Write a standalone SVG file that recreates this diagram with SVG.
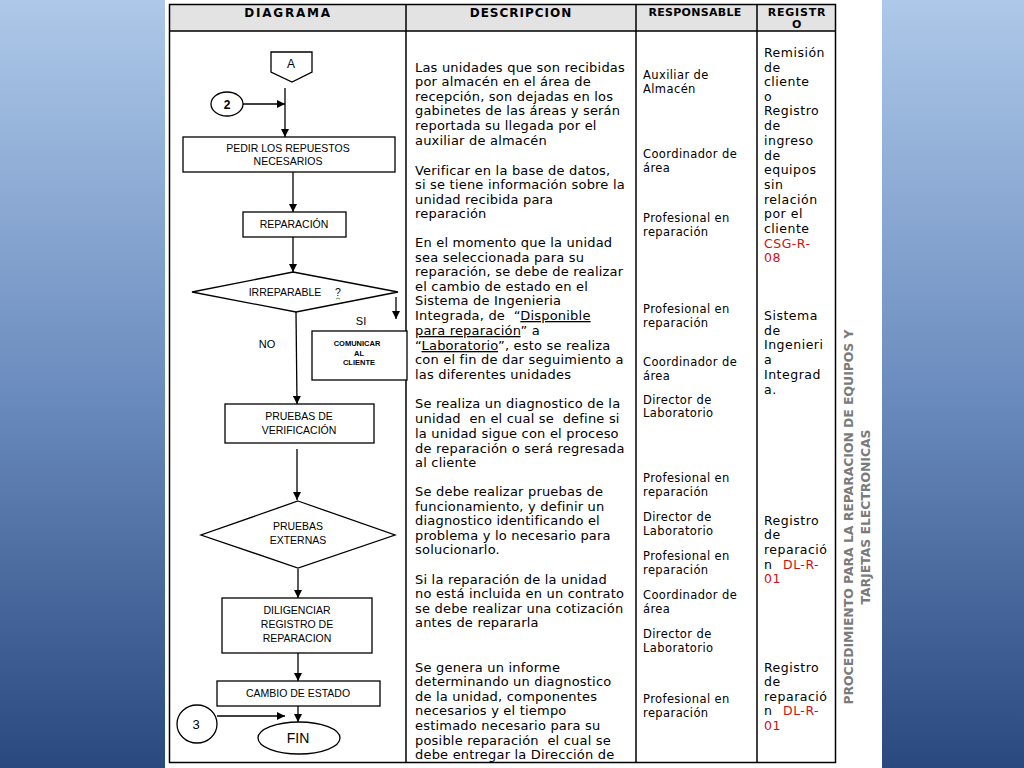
<svg xmlns="http://www.w3.org/2000/svg" width="1024" height="768" viewBox="0 0 1024 768">
<defs>
<linearGradient id="bg" x1="0" y1="0" x2="0" y2="1">
<stop offset="0" stop-color="#adc8e8"/>
<stop offset="0.5" stop-color="#6c8dbf"/>
<stop offset="1" stop-color="#2a497f"/>
</linearGradient>
<marker id="arr" markerWidth="8" markerHeight="8" refX="8" refY="4" orient="auto" markerUnits="userSpaceOnUse">
<path d="M0,0 L8,4 L0,8 z" fill="#000"/>
</marker>
<style>
.shape{fill:#fff;stroke:#000;stroke-width:1.3}
.conn{stroke:#000;stroke-width:1.3;fill:none;marker-end:url(#arr)}
.lbl{font-family:"Liberation Sans",Arial,sans-serif;font-size:10.5px;fill:#000;text-anchor:middle}
.hdr{font-family:"DejaVu Sans",Verdana,sans-serif;font-weight:bold;font-size:11px;fill:#000;text-anchor:middle;letter-spacing:0.8px}
.desc{font-family:"DejaVu Sans",Verdana,sans-serif;font-size:13px;letter-spacing:0.2px;fill:#000}
.desc text{white-space:pre}
.resp{font-family:"DejaVu Sans",Verdana,sans-serif;font-size:11.5px;letter-spacing:0.4px;fill:#000}
.reg{font-family:"DejaVu Sans",Verdana,sans-serif;font-size:12.5px;letter-spacing:0.5px;fill:#000}
.red{fill:#cc1111}
.grid{stroke:#000;stroke-width:1.5;fill:none}
</style>
</defs>
<rect x="0" y="0" width="1024" height="768" fill="url(#bg)"/>
<rect x="165" y="0" width="717" height="768" fill="#fff"/>

<g id="table">
<rect x="169.5" y="4.5" width="666" height="27" fill="#e3e3e3"/>
<rect x="169.5" y="4.5" width="666" height="758" class="grid"/>
<line x1="169.5" y1="31" x2="835.5" y2="31" class="grid"/>
<line x1="406" y1="4.5" x2="406" y2="762.5" class="grid"/>
<line x1="636" y1="4.5" x2="636" y2="762.5" class="grid"/>
<line x1="757" y1="4.5" x2="757" y2="762.5" class="grid"/>
<text class="hdr" x="288" y="17" style="font-size:12px;letter-spacing:1.8px">DIAGRAMA</text>
<text class="hdr" x="521" y="17" style="font-size:12px;letter-spacing:1px">DESCRIPCION</text>
<text class="hdr" x="695" y="16" style="letter-spacing:0.3px">RESPONSABLE</text>
<text class="hdr" x="797" y="16">REGISTR</text>
<text class="hdr" x="797" y="28">O</text>
</g>

<g id="connectors">
<line class="conn" x1="285" y1="88" x2="285" y2="137"/>
<line class="conn" x1="243" y1="104" x2="285" y2="104"/>
<line class="conn" x1="293" y1="172" x2="293" y2="212"/>
<line class="conn" x1="293" y1="237" x2="293" y2="272"/>
<line class="conn" x1="396" y1="297" x2="396" y2="319"/>
<line class="conn" x1="296" y1="312" x2="297" y2="404"/>
<line class="conn" x1="297" y1="449" x2="297" y2="500"/>
<line class="conn" x1="298" y1="569" x2="298" y2="598"/>
<line class="conn" x1="298" y1="653" x2="298" y2="681"/>
<line class="conn" x1="298" y1="706" x2="298" y2="722"/>
<line class="conn" x1="217" y1="716" x2="285" y2="716"/>
<text class="lbl" x="361" y="325" style="font-size:11px">SI</text>
<text class="lbl" x="267" y="348" style="font-size:11px">NO</text>
</g>

<g id="nodeA">
<polygon class="shape" points="271,52 312,52 312,72 292,82 271,72"/>
<text class="lbl" x="291" y="68" style="font-size:12px">A</text>
</g>
<g id="node2">
<ellipse class="shape" cx="227" cy="104" rx="16" ry="12"/>
<text class="lbl" x="227" y="109" style="font-size:12px;font-weight:bold">2</text>
</g>
<g id="pedir">
<rect class="shape" x="183" y="137" width="212" height="35"/>
<text class="lbl" x="288" y="152">PEDIR LOS REPUESTOS</text>
<text class="lbl" x="288" y="165">NECESARIOS</text>
</g>
<g id="reparacion">
<rect class="shape" x="243" y="212" width="103" height="25"/>
<text class="lbl" x="294" y="228">REPARACIÓN</text>
</g>
<g id="irreparable">
<polygon class="shape" points="293,272 398,292 296,312 192,292"/>
<text class="lbl" x="285" y="296">IRREPARABLE</text>
<text class="lbl" x="338" y="296">?</text>
<path d="M336,299 q2,-2 4,0" stroke="#2a8a2a" stroke-width="0.8" fill="none"/>
</g>
<g id="comunicar">
<rect class="shape" x="312" y="331" width="95" height="49"/>
<text class="lbl" x="357" y="346" style="font-size:7.5px;font-weight:bold">COMUNICAR</text>
<text class="lbl" x="359" y="356" style="font-size:7.5px;font-weight:bold">AL</text>
<text class="lbl" x="359" y="365" style="font-size:7.5px;font-weight:bold">CLIENTE</text>
</g>
<g id="verificacion">
<rect class="shape" x="225" y="404" width="149" height="39"/>
<text class="lbl" x="299" y="420">PRUEBAS DE</text>
<text class="lbl" x="299" y="434">VERIFICACIÓN</text>
</g>
<g id="externas">
<polygon class="shape" points="298,501 395,535 298,568 201,535"/>
<text class="lbl" x="298" y="530">PRUEBAS</text>
<text class="lbl" x="298" y="544">EXTERNAS</text>
</g>
<g id="diligenciar">
<rect class="shape" x="222" y="598" width="150" height="55"/>
<text class="lbl" x="297" y="614">DILIGENCIAR</text>
<text class="lbl" x="297" y="628">REGISTRO DE</text>
<text class="lbl" x="297" y="642">REPARACION</text>
</g>
<g id="cambio">
<rect class="shape" x="217" y="681" width="163" height="25"/>
<text class="lbl" x="298" y="697">CAMBIO DE ESTADO</text>
</g>
<g id="node3">
<ellipse class="shape" cx="197" cy="724" rx="20" ry="19"/>
<text class="lbl" x="196" y="729" style="font-size:13px">3</text>
</g>
<g id="fin">
<ellipse class="shape" cx="299" cy="738" rx="41" ry="16"/>
<text class="lbl" x="298" y="743" style="font-size:14px">FIN</text>
</g>

<g id="descripcion" class="desc">
<text x="415" y="72">Las unidades que son recibidas</text>
<text x="415" y="86">por almacén en el área de</text>
<text x="415" y="101">recepción, son dejadas en los</text>
<text x="415" y="115">gabinetes de las áreas y serán</text>
<text x="415" y="130">reportada su llegada por el</text>
<text x="415" y="145">auxiliar de almacén</text>
<text x="415" y="175">Verificar en la base de datos,</text>
<text x="415" y="189">si se tiene información sobre la</text>
<text x="415" y="204">unidad recibida para</text>
<text x="415" y="218">reparación</text>
<text x="415" y="247">En el momento que la unidad</text>
<text x="415" y="262">sea seleccionada para su</text>
<text x="415" y="276">reparación, se debe de realizar</text>
<text x="415" y="291">el cambio de estado en el</text>
<text x="415" y="305">Sistema de Ingenieria</text>
<text x="415" y="320">Integrada, de  “<tspan text-decoration="underline">Disponible</tspan></text>
<text x="415" y="335"><tspan text-decoration="underline">para reparación</tspan>” a</text>
<text x="415" y="350">“<tspan text-decoration="underline">Laboratorio</tspan>”, esto se realiza</text>
<text x="415" y="364">con el fin de dar seguimiento a</text>
<text x="415" y="379">las diferentes unidades</text>
<text x="415" y="408">Se realiza un diagnostico de la</text>
<text x="415" y="423">unidad  en el cual se  define si</text>
<text x="415" y="438">la unidad sigue con el proceso</text>
<text x="415" y="453">de reparación o será regresada</text>
<text x="415" y="467">al cliente</text>
<text x="415" y="496">Se debe realizar pruebas de</text>
<text x="415" y="511">funcionamiento, y definir un</text>
<text x="415" y="525">diagnostico identificando el</text>
<text x="415" y="540">problema y lo necesario para</text>
<text x="415" y="554">solucionarlo.</text>
<text x="415" y="584">Si la reparación de la unidad</text>
<text x="415" y="598">no está incluida en un contrato</text>
<text x="415" y="613">se debe realizar una cotización</text>
<text x="415" y="627">antes de repararla</text>
<text x="415" y="672">Se genera un informe</text>
<text x="415" y="686">determinando un diagnostico</text>
<text x="415" y="701">de la unidad, componentes</text>
<text x="415" y="715">necesarios y el tiempo</text>
<text x="415" y="730">estimado necesario para su</text>
<text x="415" y="745">posible reparación  el cual se</text>
<text x="415" y="759">debe entregar la Dirección de</text>
</g>

<g id="responsable" class="resp">
<text x="643" y="79">Auxiliar de</text>
<text x="643" y="93">Almacén</text>
<text x="643" y="158">Coordinador de</text>
<text x="643" y="172">área</text>
<text x="643" y="222">Profesional en</text>
<text x="643" y="236">reparación</text>
<text x="643" y="313">Profesional en</text>
<text x="643" y="327">reparación</text>
<text x="643" y="366">Coordinador de</text>
<text x="643" y="380">área</text>
<text x="643" y="404">Director de</text>
<text x="643" y="417">Laboratorio</text>
<text x="643" y="482">Profesional en</text>
<text x="643" y="496">reparación</text>
<text x="643" y="521">Director de</text>
<text x="643" y="535">Laboratorio</text>
<text x="643" y="560">Profesional en</text>
<text x="643" y="574">reparación</text>
<text x="643" y="599">Coordinador de</text>
<text x="643" y="613">área</text>
<text x="643" y="638">Director de</text>
<text x="643" y="652">Laboratorio</text>
<text x="643" y="703">Profesional en</text>
<text x="643" y="717">reparación</text>
</g>

<g id="registro" class="reg">
<text x="764" y="57">Remisión</text>
<text x="764" y="72">de</text>
<text x="764" y="86">cliente</text>
<text x="764" y="101">o</text>
<text x="764" y="115">Registro</text>
<text x="764" y="130">de</text>
<text x="764" y="145">ingreso</text>
<text x="764" y="160">de</text>
<text x="764" y="174">equipos</text>
<text x="764" y="189">sin</text>
<text x="764" y="204">relación</text>
<text x="764" y="218">por el</text>
<text x="764" y="233">cliente</text>
<text x="764" y="248" class="red">CSG-R-</text>
<text x="764" y="262" class="red">08</text>
<text x="764" y="320">Sistema</text>
<text x="764" y="335">de</text>
<text x="764" y="349">Ingenieri</text>
<text x="764" y="364">a</text>
<text x="764" y="379">Integrad</text>
<text x="764" y="394">a.</text>
<text x="764" y="525">Registro</text>
<text x="764" y="539">de</text>
<text x="764" y="554">reparació</text>
<text x="764" y="569">n <tspan class="red" x="783">DL-R-</tspan></text>
<text x="764" y="583" class="red">01</text>
<text x="764" y="672">Registro</text>
<text x="764" y="686">de</text>
<text x="764" y="701">reparació</text>
<text x="764" y="715">n <tspan class="red" x="783">DL-R-</tspan></text>
<text x="764" y="730" class="red">01</text>
</g>

<g id="titulo" font-family="'DejaVu Sans',Verdana,sans-serif" font-size="12" font-weight="bold" fill="#7a7a7a" text-anchor="middle">
<text x="0" y="0" transform="translate(853,517) rotate(-90)" textLength="375" lengthAdjust="spacingAndGlyphs">PROCEDIMIENTO PARA LA REPARACION DE EQUIPOS Y</text>
<text x="0" y="0" transform="translate(870,517) rotate(-90)" textLength="175" lengthAdjust="spacingAndGlyphs">TARJETAS ELECTRONICAS</text>
</g>
</svg>
